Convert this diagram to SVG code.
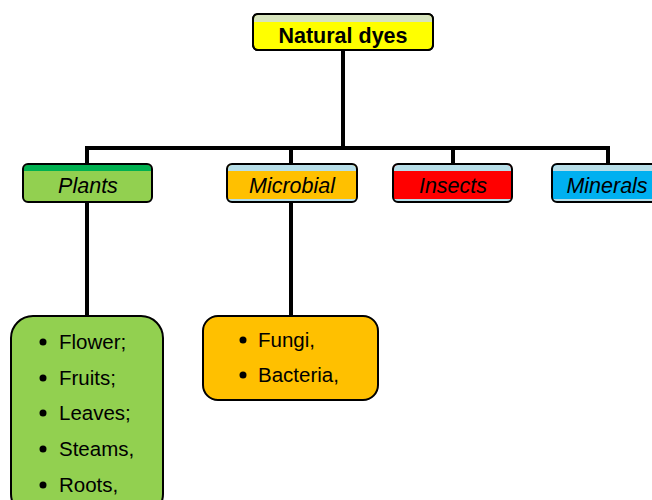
<svg xmlns="http://www.w3.org/2000/svg" width="652" height="500" viewBox="0 0 652 500">
<style>
.box{stroke:#000;stroke-width:2}
.t{font-family:"Liberation Sans",Arial,sans-serif;fill:#000}
.cat{font-size:21.5px;font-style:italic;text-anchor:middle}
.li{font-size:20.5px}
.ln{stroke:#000;stroke-width:4;fill:none}
</style>
<rect width="652" height="500" fill="#fff"/>
<g id="connectors">
<path class="ln" d="M343 50V148M87 148H608M87 146V164M291 146V164M453 146V164M608 146V164"/>
<path class="ln" d="M87 202V316M291 202V316"/>
</g>
<g id="natural-dyes">
<rect x="253" y="14" width="180" height="36" rx="5" fill="#ffff00" class="box"/>
<path d="M258 15H428a4 4 0 0 1 4 4V22H254V19a4 4 0 0 1 4-4z" fill="#d7e4bd"/>
<rect x="253" y="14" width="180" height="36" rx="5" fill="none" class="box"/>
<text x="343" y="43" class="t" font-size="21.5" font-weight="bold" text-anchor="middle">Natural dyes</text>
</g>
<g id="plants">
<rect x="23" y="164" width="129" height="38" rx="5" fill="#92d050"/>
<path d="M28 165H147a4 4 0 0 1 4 4V171H24V169a4 4 0 0 1 4-4z" fill="#00b050"/>
<rect x="23" y="164" width="129" height="38" rx="5" fill="none" class="box"/>
<text x="88" y="193" class="t cat">Plants</text>
</g>
<g id="microbial">
<rect x="227" y="164" width="130" height="38" rx="5" fill="#ffc000"/>
<path d="M232 165H352a4 4 0 0 1 4 4V171H228V169a4 4 0 0 1 4-4z" fill="#b7dee8"/>
<path d="M228 199V202H356V199z" fill="#b7dee8"/>
<rect x="227" y="164" width="130" height="38" rx="5" fill="none" class="box"/>
<text x="292" y="193" class="t cat">Microbial</text>
</g>
<g id="insects">
<rect x="393" y="164" width="119" height="38" rx="5" fill="#ff0000"/>
<path d="M398 165H507a4 4 0 0 1 4 4V171H394V169a4 4 0 0 1 4-4z" fill="#b7dee8"/>
<path d="M394 199V202H511V199z" fill="#b7dee8"/>
<rect x="393" y="164" width="119" height="38" rx="5" fill="none" class="box"/>
<text x="453" y="193" class="t cat">Insects</text>
</g>
<g id="minerals">
<rect x="552" y="164" width="112" height="38" rx="5" fill="#00b0f0"/>
<path d="M557 165H659a4 4 0 0 1 4 4V171H553V169a4 4 0 0 1 4-4z" fill="#b7dee8"/>
<path d="M553 199V202H663V199z" fill="#b7dee8"/>
<rect x="552" y="164" width="112" height="38" rx="5" fill="none" class="box"/>
<text x="607" y="193" class="t cat">Minerals</text>
</g>
<g id="plants-list">
<rect x="11" y="316" width="152" height="200" rx="22" fill="#92d050" class="box"/>
<g class="t li">
<circle cx="43" cy="342" r="3.5"/><text x="59" y="349">Flower;</text>
<circle cx="43" cy="378" r="3.5"/><text x="59" y="385">Fruits;</text>
<circle cx="43" cy="413" r="3.5"/><text x="59" y="420">Leaves;</text>
<circle cx="43" cy="449" r="3.5"/><text x="59" y="456">Steams,</text>
<circle cx="43" cy="485" r="3.5"/><text x="59" y="492">Roots,</text>
</g>
</g>
<g id="microbial-list">
<rect x="203" y="316" width="175" height="84" rx="15" fill="#ffc000" class="box"/>
<g class="t li">
<circle cx="243" cy="340" r="3.5"/><text x="258" y="347">Fungi,</text>
<circle cx="243" cy="375" r="3.5"/><text x="258" y="382">Bacteria,</text>
</g>
</g>
</svg>
